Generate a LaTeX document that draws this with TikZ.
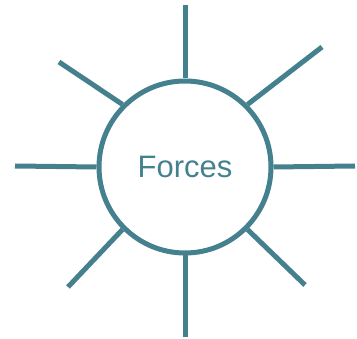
\documentclass[tikz,border=0pt]{standalone}
\usepackage{fontspec}
\setmainfont{Liberation Sans}
\definecolor{forceteal}{RGB}{69,128,142}
\tikzset{
  spoke/.style={draw=forceteal, line width=5pt},
  hub/.style={circle, draw=forceteal, line width=5pt, minimum size=172pt, inner sep=0pt,
    text=forceteal, font=\fontsize{31}{36}\selectfont}
}
\begin{document}
\begin{tikzpicture}[x=1pt, y=-1pt]
\useasboundingbox (0,0) rectangle (357,339);

\node[hub] (F) at (185,167) {Forces};

% Extremos de los rayos
\coordinate (n)  at (185,5);
\coordinate (s)  at (185,337);
\coordinate (w)  at (15,166);
\coordinate (e)  at (355,166);
\coordinate (nw) at (59,62);
\coordinate (ne) at (322,47);
\coordinate (sw) at (68,287);
\coordinate (se) at (305,285);

% Rayos
	\foreach \a/\p in {90/n, 270/s, 180/w, 0/e, 135/nw, 45/ne, 225/sw, 315/se}
		\draw[spoke] (F.\a) -- (\p);
\end{tikzpicture}
\end{document}
